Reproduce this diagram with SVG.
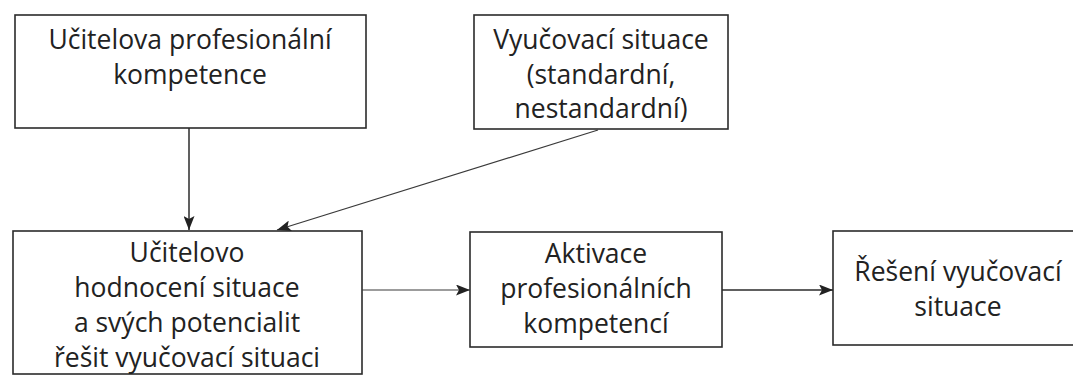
<svg xmlns="http://www.w3.org/2000/svg" width="1073" height="376" viewBox="0 0 1073 376">
<style>
.box{fill:#ffffff;stroke:#2b2b2b;stroke-width:1.6}
.t{font-family:"Open Sans","Noto Sans","Liberation Sans",sans-serif;font-size:26.5px;fill:#222222;text-anchor:middle}
.c{stroke:#2b2b2b;stroke-width:1.5;fill:none}
.thin{stroke:#3a3a3a;stroke-width:1.2;fill:none}
</style>
<defs>
<marker id="ah" markerUnits="userSpaceOnUse" markerWidth="15" markerHeight="11" refX="14" refY="5.5" orient="auto">
<path d="M0,0 L14,5.5 L0,11 L3,5.5 Z" fill="#222222"/>
</marker>
</defs>
<rect width="1073" height="376" fill="#ffffff"/>
<g id="n1">
<rect class="box" x="15" y="15" width="351" height="113"/>
<text class="t" x="190" y="49">Učitelova profesionální</text>
<text class="t" x="190" y="84">kompetence</text>
</g>
<g id="n2">
<rect class="box" x="474" y="15" width="254" height="114"/>
<text class="t" x="601" y="49">Vyučovací situace</text>
<text class="t" x="601" y="84">(standardní,</text>
<text class="t" x="601" y="118">nestandardní)</text>
</g>
<g id="n3">
<rect class="box" x="13" y="231" width="349" height="143"/>
<text class="t" x="187" y="262">Učitelovo</text>
<text class="t" x="187" y="297">hodnocení situace</text>
<text class="t" x="187" y="332">a svých potencialit</text>
<text class="t" x="187" y="367">řešit vyučovací situaci</text>
</g>
<g id="n4">
<rect class="box" x="470" y="232" width="252" height="115"/>
<text class="t" x="596" y="263">Aktivace</text>
<text class="t" x="596" y="298">profesionálních</text>
<text class="t" x="596" y="333">kompetencí</text>
</g>
<g id="n5">
<rect class="box" x="833" y="231" width="260" height="114"/>
<text class="t" x="958" y="281">Řešení vyučovací</text>
<text class="t" x="958" y="316">situace</text>
</g>
<g id="connectors">
<line class="c" x1="189" y1="128" x2="189" y2="230" marker-end="url(#ah)"/>
<line class="thin" x1="598" y1="130" x2="277" y2="230" marker-end="url(#ah)"/>
<line class="thin" x1="362" y1="290" x2="470" y2="290" marker-end="url(#ah)"/>
<line class="c" x1="722" y1="290" x2="833" y2="290" marker-end="url(#ah)"/>
</g>
</svg>
